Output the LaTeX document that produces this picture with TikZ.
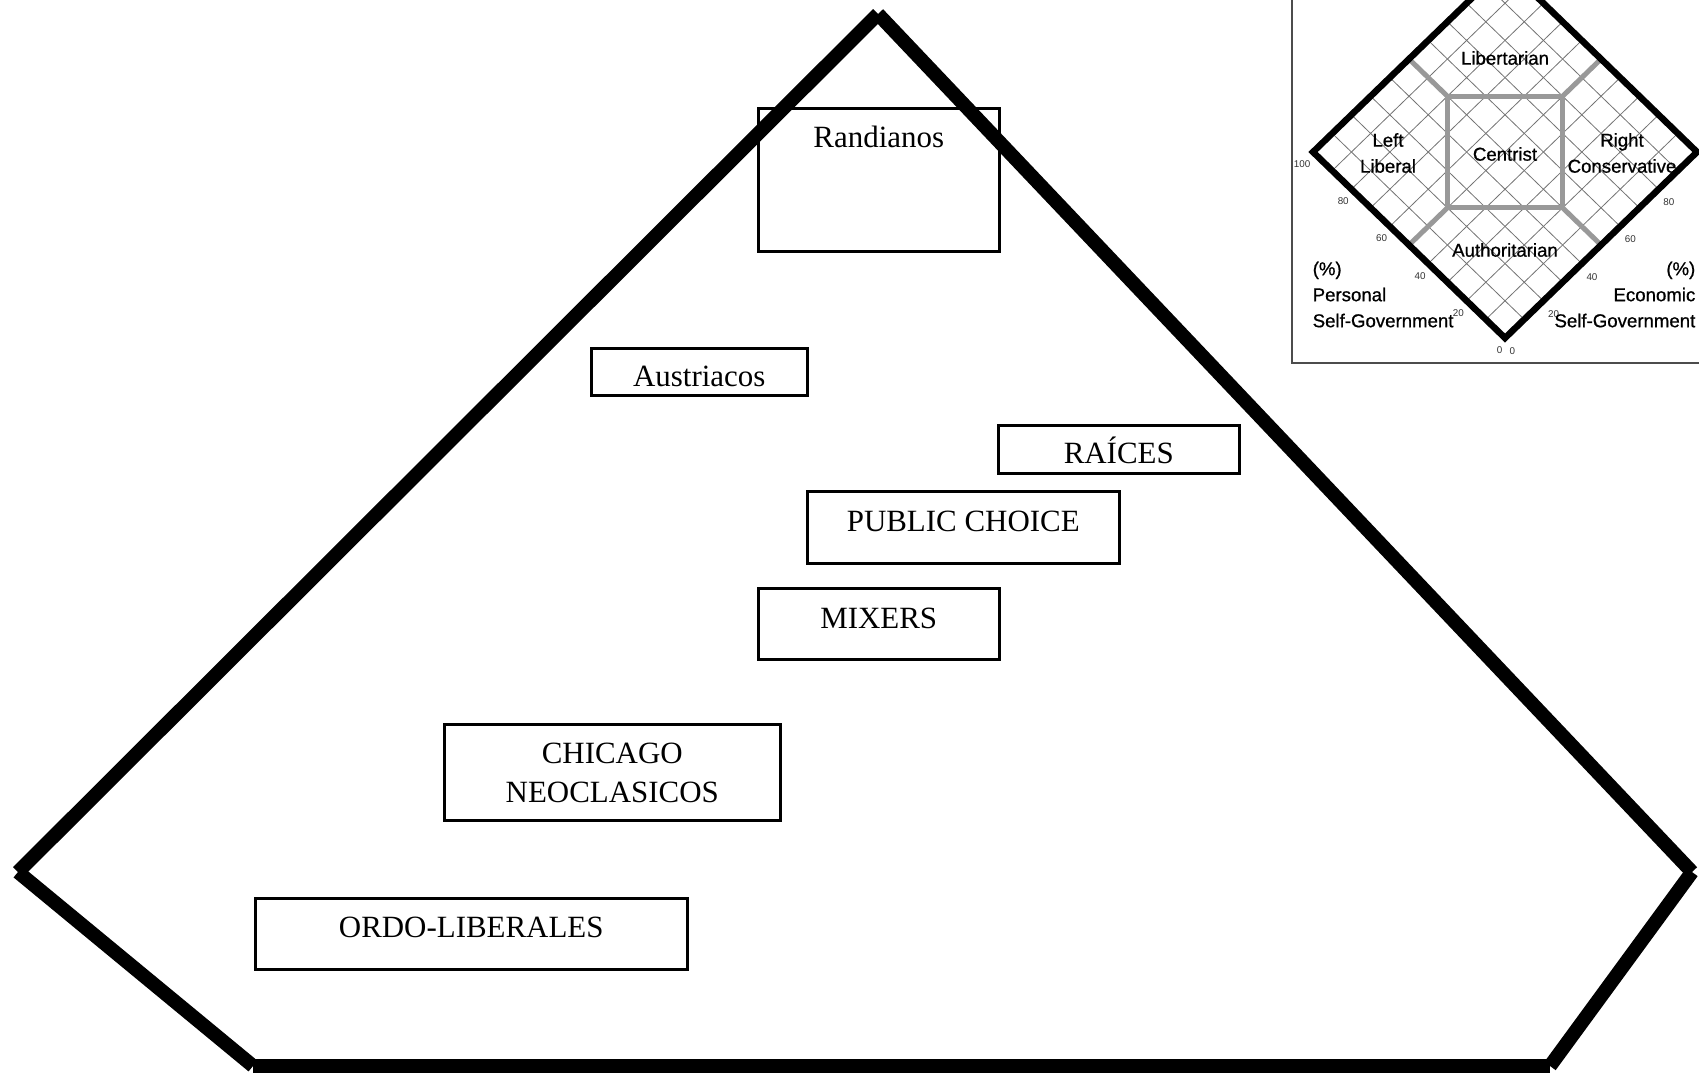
\documentclass[tikz,border=0pt]{standalone}
\usepackage{fontspec}
\setmainfont{Liberation Serif}
\newfontfamily\chartfont[FakeBold=0.8]{Liberation Sans}
\newfontfamily\tickfont{Liberation Sans}
\usetikzlibrary{positioning}

\begin{document}
\begin{tikzpicture}[x=0.1mm, y=-0.1mm,
	wall/.style={line width=1.4mm},
	school box/.style={draw, line width=0.25mm, inner sep=0, anchor=north west},
	school label/.style={inner sep=0, font=\fontsize{8.8}{11.1}\selectfont},
	school line/.style={school label, text height=5.8pt},
	chart text/.style={inner sep=0, align=center, font=\chartfont\fontsize{5.3}{7.4}\selectfont},
	tick/.style={inner sep=0, text=black!80, font=\tickfont\fontsize{2.8}{3}\selectfont},
	grid line/.style={line width=0.08mm, black!55},
	zone line/.style={line width=0.5mm, black!40},
	rim/.style={line width=0.65mm, line join=miter}]
	
	\useasboundingbox (0,0) rectangle (1699,1075);
	
	% the pentagon
	\coordinate (p1) at (878,14);
	\coordinate (p2) at (18,872);
	\coordinate (p3) at (253,1066);
	\coordinate (p4) at (1550,1066);
	\coordinate (p5) at (1692,872);
	\path[wall] (p1) edge (p2)
	(p2) edge (p3)
	(p3) edge (p4)
	(p4) edge (p5)
	(p5) edge (p1);
	
	% the schools
	\node[school box, minimum width=24.1mm, minimum height=14.3mm] (1) at (757,107) {};
	\node[school box, minimum width=21.6mm, minimum height=4.7mm] (2) at (590,347) {};
	\node[school box, minimum width=24.1mm, minimum height=4.8mm] (3) at (997,424) {};
	\node[school box, minimum width=31.2mm, minimum height=7.2mm] (4) at (806,490) {};
	\node[school box, minimum width=24.1mm, minimum height=7.1mm] (5) at (757,587) {};
	\node[school box, minimum width=33.6mm, minimum height=9.6mm] (6) at (443,723) {};
	\node[school box, minimum width=43.2mm, minimum height=7.1mm] (7) at (254,897) {};
	
	\node[school line, below=1.9mm of 1.north] (t1) {Randianos};
	\begin{scope}
		\clip (2.north west) rectangle ([yshift=1mm]2.south east);
		\node[school line, below=1.8mm of 2.north] (t2) {Austriacos};
	\end{scope}
	\begin{scope}
		\clip (3.north west) rectangle ([yshift=1mm]3.south east);
		\node[school line, below=1.8mm of 3.north] (t3) {RAÍCES};
	\end{scope}
	\node[school line, below=2mm of 4.north] (t4) {PUBLIC CHOICE};
	\node[school line, below=2mm of 5.north] (t5) {MIXERS};
	\node[school label, align=center, below=1.9mm of 6.north] (t6) {CHICAGO\\NEOCLASICOS};
	\node[school line, below=1.9mm of 7.north] (t7) {ORDO-LIBERALES};
	
	% the small chart
	\draw[line width=0.2mm, black!70] (1292,-20) rectangle (1720,363);
	\begin{scope}[shift={(1505,338)}, x={(0.192mm,0.186mm)}, y={(-0.192mm,0.186mm)}]
		\foreach \k in {10,20,...,90} {
			\draw[grid line] (\k,0) -- (\k,100);
			\draw[grid line] (0,\k) -- (100,\k);
		}
		\draw[zone line] (50,80) -- (80,50) -- (50,20) -- (20,50) -- cycle;
		\draw[zone line] (50,80) -- (50,100) (80,50) -- (100,50)
		(50,20) -- (50,0) (20,50) -- (0,50);
		\draw[rim] (0,0) -- (100,0) -- (100,100) -- (0,100) -- cycle;
		\foreach \v in {0,20,...,100} {
			\node[tick, anchor=north east, xshift=-0.2mm, yshift=-0.8mm] (l\v) at (0,\v) {\v};
			\node[tick, anchor=north west, xshift=0.4mm, yshift=-0.9mm] (r\v) at (\v,0) {\v};
		}
	\end{scope}
	
	\node[chart text] (lib) at (1505,58) {Libertarian};
	\node[chart text] (lft) at (1388,153) {Left\\Liberal};
	\node[chart text] (cen) at (1505,154) {Centrist};
	\node[chart text] (rgt) at (1622,153) {Right\\Conservative};
	\node[chart text] (aut) at (1505,250) {Authoritarian};
	\node[chart text, align=left, anchor=north west] (per) at (1312,261) {(\%)\\Personal\\Self-Government};
	\node[chart text, align=right, anchor=north east] (eco) at (1696,261) {(\%)\\Economic\\Self-Government};
\end{tikzpicture}
\end{document}
